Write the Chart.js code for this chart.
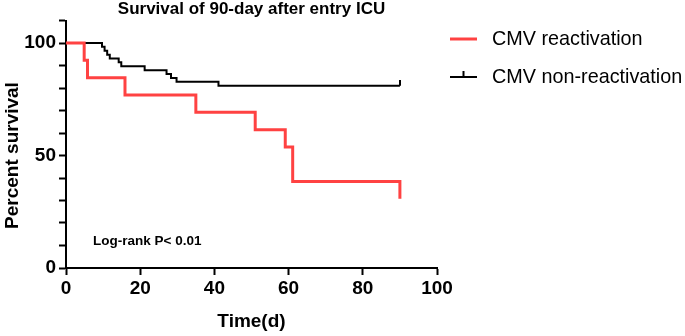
<!DOCTYPE html>
<html>
<head>
<meta charset="utf-8">
<script src="https://cdn.jsdelivr.net/npm/chart.js@4/dist/chart.umd.min.js"></script>
<style>
  html, body { margin: 0; padding: 0; background: #fff; }
  #wrap { width: 685px; height: 336px; }
</style>
</head>
<body>
<div id="wrap"><canvas id="km"></canvas></div>
<script>
// Kaplan-Meier steps (time in days, percent survival)
const reactTimes = [0, 4.9, 5.8, 15.9, 35.0, 51.0, 59.1, 61.1, 90.0];
const reactSurvival = [100, 92.3, 84.6, 76.9, 69.2, 61.5, 53.8, 38.5, 30.8];

const nonReactTimes = [0, 9.7, 10.4, 11.1, 11.8, 14.2, 14.9, 21.2, 27.1, 28.3, 29.8, 41.1, 90.0];
const nonReactSurvival = [100, 98.3, 96.6, 94.8, 93.1, 91.4, 89.7, 87.9, 86.2, 84.5, 82.8, 81.0, 81.0];

const seriesLabels = ['CMV reactivation', 'CMV non-reactivation'];
const xTicks = [0, 20, 40, 60, 80, 100];
const yTicks = [0, 10, 20, 30, 40, 50, 60, 70, 80, 90, 100, 110];
const yLabelled = [0, 50, 100];

const RED = '#ff4242';
const FONT = '"Liberation Sans", Arial, sans-serif';

// little upward tick used as the censor mark on the last point
const censorMark = document.createElement('canvas');
censorMark.width = 2;
censorMark.height = 12;
(function() {
    const c = censorMark.getContext('2d');
    c.fillStyle = '#000';
    c.fillRect(0, 0, 2, 6);
})();

function toPoints(times, vals) {
    return times.map((t, i) => ({ x: t, y: vals[i] }));
}

// y title, p-value note and legend drawn next to the plot
const extras = {
    id: 'extras',
    afterDraw(chart) {
        const ctx = chart.ctx;
        const area = chart.chartArea;
        const y = chart.scales.y;
        ctx.save();
        ctx.fillStyle = '#000';

        ctx.save();
        ctx.translate(13, y.getPixelForValue(50));
        ctx.rotate(-Math.PI / 2);
        ctx.font = 'bold 19px ' + FONT;
        ctx.textAlign = 'center';
        ctx.textBaseline = 'middle';
        ctx.fillText('Percent survival', 0, 0);
        ctx.restore();

        ctx.font = 'bold 13.5px ' + FONT;
        ctx.textAlign = 'left';
        ctx.textBaseline = 'middle';
        ctx.fillText('Log-rank P< 0.01', area.left + 27, area.bottom - 27);

        const rows = [39, 77];
        chart.data.datasets.forEach((ds, i) => {
            const ly = rows[i];
            const lx = area.right + 13;
            ctx.strokeStyle = ds.borderColor;
            ctx.lineWidth = ds.borderWidth;
            ctx.beginPath();
            ctx.moveTo(lx, ly);
            ctx.lineTo(lx + 27, ly);
            ctx.stroke();
            if (i === 1) {
                ctx.beginPath();
                ctx.moveTo(lx + 13.5, ly);
                ctx.lineTo(lx + 13.5, ly - 6);
                ctx.stroke();
            }
            ctx.font = '19.8px ' + FONT;
            ctx.fillStyle = '#000';
            ctx.fillText(ds.label, lx + 42, ly + 1);
        });
        ctx.restore();
    }
};

const lastIdx = nonReactTimes.length - 1;

new Chart(document.getElementById('km'), {
    type: 'line',
    data: {
        datasets: [{
            label: seriesLabels[0],
            data: toPoints(reactTimes, reactSurvival),
            borderColor: RED,
            borderWidth: 3,
            stepped: 'before',
            pointRadius: 0,
            fill: false
        }, {
            label: seriesLabels[1],
            data: toPoints(nonReactTimes, nonReactSurvival),
            borderColor: '#000',
            borderWidth: 2,
            stepped: 'before',
            pointStyle: censorMark,
            pointRadius: ctx => ctx.dataIndex === lastIdx ? 1 : 0,
            fill: false
        }]
    },
    options: {
        responsive: true,
        maintainAspectRatio: false,
        animation: false,
        layout: { padding: { left: 0, right: 248, top: 0, bottom: 0 } },
        plugins: {
            legend: { display: false },
            tooltip: { enabled: false },
            title: {
                display: true,
                fullSize: false,
                text: 'Survival of 90-day after entry ICU',
                color: '#000',
                font: { family: FONT, size: 17, weight: 'bold', lineHeight: 1 },
                padding: { top: 1, bottom: 2.5 }
            }
        },
        scales: {
            x: {
                type: 'linear',
                min: 0,
                max: 100,
                afterFit: s => { s.height = 68; },
                afterBuildTicks: s => { s.ticks = xTicks.map(v => ({ value: v })); },
                border: { color: '#000', width: 2 },
                grid: { drawOnChartArea: false, tickLength: 7, tickWidth: 2, tickColor: '#000' },
                ticks: {
                    color: '#000',
                    padding: 2,
                    maxRotation: 0,
                    autoSkip: false,
                    font: { family: FONT, size: 19, weight: 'bold' }
                },
                title: {
                    display: true,
                    text: 'Time(d)',
                    color: '#000',
                    font: { family: FONT, size: 19, weight: 'bold' },
                    padding: { top: 0, bottom: 3 }
                }
            },
            y: {
                min: 0,
                max: 110,
                afterFit: s => { s.width = 66; },
                afterBuildTicks: s => { s.ticks = yTicks.map(v => ({ value: v })); },
                border: { color: '#000', width: 2 },
                grid: { drawOnChartArea: false, tickLength: 7, tickWidth: 2, tickColor: '#000' },
                ticks: {
                    color: '#000',
                    padding: 3,
                    autoSkip: false,
                    font: { family: FONT, size: 19, weight: 'bold' },
                    callback: v => yLabelled.includes(v) ? String(v) : ''
                }
            }
        }
    },
    plugins: [extras]
});
</script>
</body>
</html>
